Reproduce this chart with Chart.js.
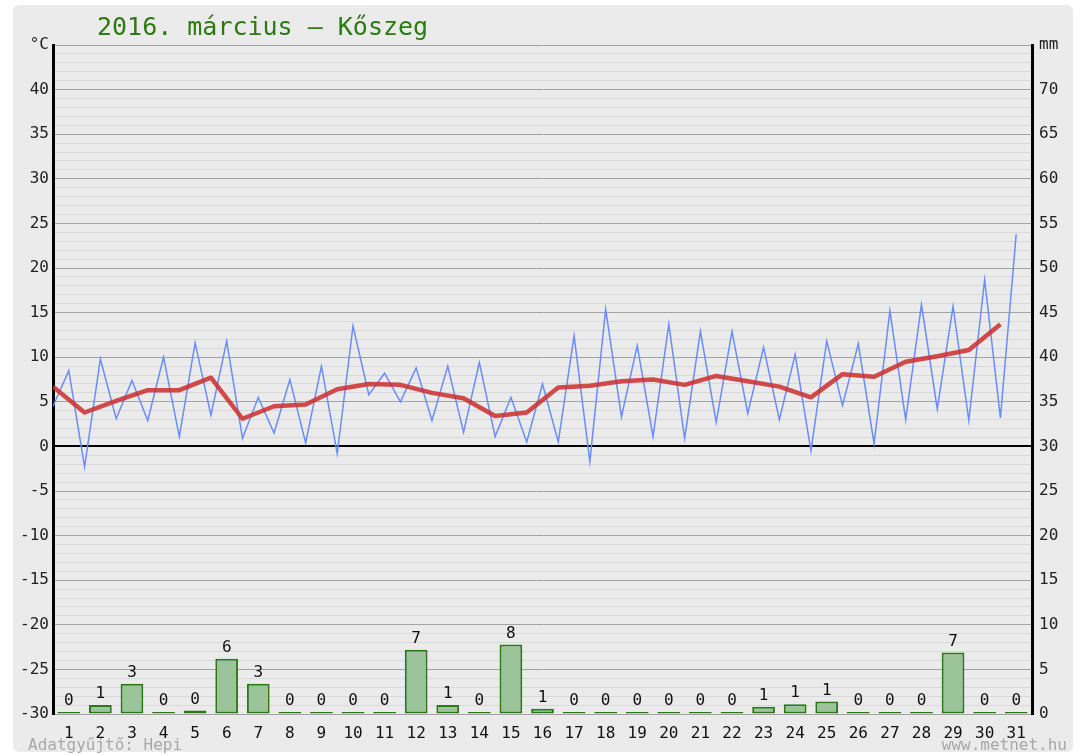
<!DOCTYPE html>
<html>
<head>
<meta charset="utf-8">
<script src="https://cdn.jsdelivr.net/npm/chart.js@4.4.1/dist/chart.umd.min.js"></script>
<style>
html, body { margin: 0; padding: 0; background: #fff; }
</style>
</head>
<body>
<canvas id="myChart" width="1080" height="755"></canvas>
<script>
const TITLE = '2016. március – Kőszeg'
const days = [1, 2, 3, 4, 5, 6, 7, 8, 9, 10, 11, 12, 13, 14, 15, 16, 17, 18, 19, 20, 21, 22, 23, 24, 25, 26, 27, 28, 29, 30, 31]
// daily minimum / maximum (blue zigzag), daily mean (red)
const tMin = [4.5, -2.3, 3.1, 2.9, 1.1, 3.5, 0.9, 1.5, 0.4, -0.8, 5.8, 5.0, 2.9, 1.6, 1.1, 0.5, 0.5, -1.7, 3.3, 1.1, 0.9, 2.7, 3.7, 3.0, -0.5, 4.6, 0.3, 3.0, 4.2, 2.9, 3.2]
const tMax = [8.5, 9.8, 7.4, 10.0, 11.6, 11.8, 5.5, 7.5, 9.0, 13.5, 8.2, 8.8, 9.0, 9.4, 5.5, 7.0, 12.4, 15.4, 11.3, 13.7, 12.9, 12.9, 11.1, 10.3, 11.8, 11.5, 15.2, 15.9, 15.7, 18.7, 23.8]
const tMean = [6.7, 3.8, 5.1, 6.3, 6.3, 7.7, 3.1, 4.5, 4.7, 6.4, 7.0, 6.9, 6.0, 5.4, 3.4, 3.8, 6.6, 6.8, 7.3, 7.5, 6.9, 7.9, 7.3, 6.7, 5.5, 8.1, 7.8, 9.5, 10.1, 10.8, 13.7]
// precipitation, mm
const rain = [0, 1.0, 3.4, 0, 0.4, 6.2, 3.4, 0, 0, 0, 0, 7.2, 1.0, 0, 7.8, 0.6, 0, 0, 0, 0, 0, 0, 0.8, 1.1, 1.4, 0, 0, 0, 6.9, 0, 0]
const tempAxis = { min: -30, max: 45, unit: '°C' }
const rainAxis = { min: 0, max: 75, unit: 'mm' }
const footLeft = 'Adatgyűjtő: Hepi'
const footRight = 'www.metnet.hu'

const MONO = '"DejaVu Sans Mono", "Liberation Mono", monospace'

const blueData = days.flatMap((d, i) => [{ x: d - 1, y: tMin[i] }, { x: d - 0.5, y: tMax[i] }])
const redData = days.map((d, i) => ({ x: d - 1, y: tMean[i] }))
const barData = days.map((d, i) => ({ x: d - 0.5, y: rain[i] }))

const frame = {
  id: 'frame',
  beforeDraw(chart) {
    const c = chart.ctx
    c.save()
    c.fillStyle = '#ffffff'
    c.fillRect(0, 0, chart.width, chart.height)
    c.fillStyle = '#ebebeb'
    c.beginPath()
    c.roundRect(13, 5, 1060, 747, 6)
    c.fill()
    c.restore()
  },
  afterDraw(chart) {
    const c = chart.ctx
    c.save()
    c.font = '25px ' + MONO
    c.fillStyle = '#2b7a12'
    c.textAlign = 'left'
    c.textBaseline = 'alphabetic'
    c.fillText(TITLE, 97, 35)
    c.font = '16px ' + MONO
    c.fillStyle = '#a8a8a8'
    c.fillText(footLeft, 28, 750)
    c.textAlign = 'right'
    c.fillText(footRight, 1067, 750)
    c.restore()
  }
}

// rain amounts written above the bars
const barLabels = {
  id: 'barLabels',
  afterDatasetsDraw(chart) {
    const c = chart.ctx
    const meta = chart.getDatasetMeta(0)
    c.save()
    c.font = '16px ' + MONO
    c.fillStyle = '#111'
    c.textAlign = 'center'
    c.textBaseline = 'bottom'
    meta.data.forEach((el, i) => {
      c.fillText(String(Math.round(rain[i])), el.x, el.y - 3)
    })
    c.restore()
  }
}

function gridColor(ctx) {
  const v = ctx.tick.value
  if (v === 0) return '#000000'
  if (v % 5 === 0) return '#a3a3a3'
  return '#d9d9d9'
}

const ctx = document.getElementById('myChart').getContext('2d')
const chart = new Chart(ctx, {
  type: 'bar',
  data: {
    datasets: [{
      type: 'bar',
      data: barData,
      yAxisID: 'mm',
      backgroundColor: 'rgb(155, 196, 155)',
      borderColor: 'rgb(45, 120, 25)',
      borderWidth: 2,
      borderSkipped: false,
      minBarLength: 2,
      categoryPercentage: 1,
      barPercentage: 0.72,
      order: 3
    }, {
      type: 'line',
      data: blueData,
      yAxisID: 'y',
      borderColor: 'rgb(105, 140, 255)',
      borderWidth: 1.5,
      pointRadius: 0,
      tension: 0,
      order: 2
    }, {
      type: 'line',
      data: redData,
      yAxisID: 'y',
      borderColor: 'rgba(205, 45, 45, 0.85)',
      borderWidth: 4.5,
      borderJoinStyle: 'round',
      pointRadius: 0,
      tension: 0,
      order: 1
    }]
  },
  plugins: [frame, barLabels],
  options: {
    responsive: false,
    animation: false,
    layout: { padding: { top: 45, left: 0, right: 0, bottom: 0 } },
    plugins: {
      legend: { display: false },
      tooltip: { enabled: false },
      title: { display: false }
    },
    scales: {
      x: {
        type: 'linear',
        offset: false,
        min: 0,
        max: days.length,
        afterBuildTicks(scale) {
          scale.ticks = days.map(d => ({ value: d - 0.5 }))
        },
        afterFit(scale) { scale.height = 41 },
        grid: { display: false, offset: false },
        border: { display: false },
        ticks: {
          autoSkip: false,
          maxRotation: 0,
          padding: 2,
          color: '#111',
          font: { family: MONO, size: 16 },
          callback: (v, i) => String(days[i])
        }
      },
      y: {
        position: 'left',
        min: tempAxis.min,
        max: tempAxis.max,
        afterFit(scale) { scale.width = 53 },
        border: { display: true, color: '#000', width: 3 },
        grid: {
          drawTicks: false,
          color: gridColor,
          lineWidth: c => (c.tick.value === 0 ? 2 : 1)
        },
        ticks: {
          stepSize: 1,
          maxTicksLimit: 200,
          autoSkip: false,
          padding: 4,
          color: '#222',
          font: { family: MONO, size: 16 },
          callback: v => (v === tempAxis.max ? tempAxis.unit : (v % 5 === 0 ? String(v) : ''))
        }
      },
      mm: {
        position: 'right',
        min: rainAxis.min,
        max: rainAxis.max,
        afterFit(scale) { scale.width = 48 },
        border: { display: true, color: '#000', width: 3 },
        grid: { drawOnChartArea: false, drawTicks: false },
        ticks: {
          stepSize: 5,
          autoSkip: false,
          padding: 7,
          color: '#222',
          font: { family: MONO, size: 16 },
          callback: v => (v === rainAxis.max ? rainAxis.unit : String(v))
        }
      }
    }
  }
})
</script>
</body>
</html>
